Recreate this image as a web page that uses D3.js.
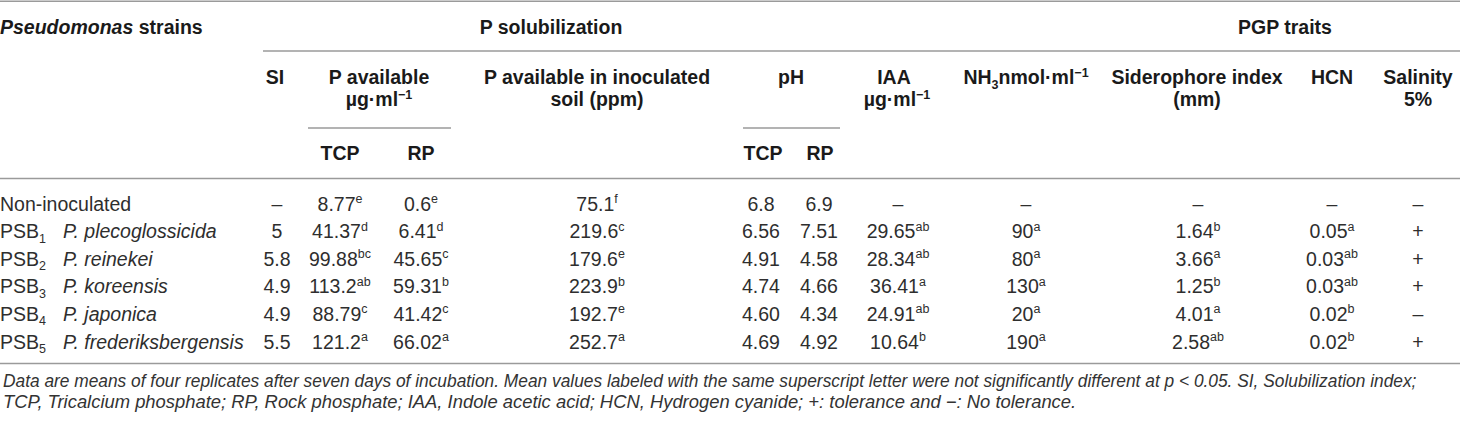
<!DOCTYPE html>
<html><head><meta charset="utf-8">
<script src="https://cdn.jsdelivr.net/npm/d3@7/dist/d3.min.js"></script>
<style>
html,body{margin:0;padding:0;background:#fff;}
svg{display:block;}
</style></head>
<body>
<svg id="t" width="1460" height="421"></svg>
<script>
// ---- data ----
const strainCodes = ["Non-inoculated", "PSB1", "PSB2", "PSB3", "PSB4", "PSB5"];
const strainSub = ["", "1", "2", "3", "4", "5"];
const species = ["", "P. plecoglossicida", "P. reinekei", "P. koreensis", "P. japonica", "P. frederiksbergensis"];
const si = ["–", "5", "5.8", "4.9", "4.9", "5.5"];
const pTcp = ["8.77", "41.37", "99.88", "113.2", "88.79", "121.2"];
const pTcpSig = ["e", "d", "bc", "ab", "c", "a"];
const pRp = ["0.6", "6.41", "45.65", "59.31", "41.42", "66.02"];
const pRpSig = ["e", "d", "c", "b", "c", "a"];
const soil = ["75.1", "219.6", "179.6", "223.9", "192.7", "252.7"];
const soilSig = ["f", "c", "e", "b", "e", "a"];
const phTcp = ["6.8", "6.56", "4.91", "4.74", "4.60", "4.69"];
const phRp = ["6.9", "7.51", "4.58", "4.66", "4.34", "4.92"];
const iaa = ["–", "29.65", "28.34", "36.41", "24.91", "10.64"];
const iaaSig = ["", "ab", "ab", "a", "ab", "b"];
const nh3 = ["–", "90", "80", "130", "20", "190"];
const nh3Sig = ["", "a", "a", "a", "a", "a"];
const sidero = ["–", "1.64", "3.66", "1.25", "4.01", "2.58"];
const sideroSig = ["", "b", "a", "b", "a", "ab"];
const hcn = ["–", "0.05", "0.03", "0.03", "0.02", "0.02"];
const hcnSig = ["", "a", "ab", "ab", "b", "b"];
const salinity = ["–", "+", "+", "+", "–", "+"];
const footnotes = [
  "Data are means of four replicates after seven days of incubation. Mean values labeled with the same superscript letter were not significantly different at p < 0.05. SI, Solubilization index;",
  "TCP, Tricalcium phosphate; RP, Rock phosphate; IAA, Indole acetic acid; HCN, Hydrogen cyanide; +: tolerance and \u2212: No tolerance."
];

// ---- layout ----
const svg = d3.select("#t");
const FONT = "'Liberation Sans', Arial, Helvetica, sans-serif";
const FS = 19.5;
const bodyColor = "#2e2e2e";
const headColor = "#1a1a1a";
const ruleColor = "#9a9a9a";

const colKeys = ["si","pTcp","pRp","soil","phTcp","phRp","iaa","nh3","sidero","hcn","sal"];
const colX = d3.scaleOrdinal().domain(colKeys)
  .range([277, 340, 421, 597, 761, 819, 898, 1026, 1198, 1332, 1418]);

const rowY = d3.scalePoint().domain(d3.range(strainCodes.length)).range([203.5, 341.5]);

// rules
function rule(x1, x2, y, w) {
  svg.append("line").attr("x1", x1).attr("x2", x2).attr("y1", y).attr("y2", y)
    .attr("stroke", ruleColor).attr("stroke-width", w || 1.4);
}
rule(0, 1460, 1.2, 1.6);
rule(263, 1460, 51);
rule(308, 451, 128);
rule(743, 840, 128);
rule(0, 1460, 178.5);
rule(0, 1460, 363.5);

// helper for text with optional sup/sub
function txt(x, y, parts, opts) {
  opts = opts || {};
  const t = svg.append("text").attr("x", x).attr("y", y)
    .attr("font-family", FONT).attr("font-size", opts.size || FS)
    .attr("font-weight", opts.bold ? "bold" : "normal")
    .attr("fill", opts.color || (opts.bold ? headColor : bodyColor))
    .attr("text-anchor", opts.anchor || "middle");
  let shift = 0;
  parts.forEach(p => {
    if (typeof p === "string") p = {t: p};
    if (p.t === "") return;
    const s = t.append("tspan").text(p.t);
    let target = 0;
    if (p.sup) { target = -7.5; s.attr("font-size", 12.5); }
    if (p.sub) { target = 4.5; s.attr("font-size", 12.5); }
    if (p.it) s.attr("font-style", "italic");
    if (target !== shift) { s.attr("dy", target - shift); shift = target; }
  });
  return t;
}

// header
const HB = {bold: true};
txt(0, 34, [{t: "Pseudomonas", it: true}, " strains"], {bold: true, anchor: "start"});
txt(551, 34, ["P solubilization"], HB);
txt(1285, 34, ["PGP traits"], HB);

txt(275, 84, ["SI"], HB);
txt(379, 84, ["P available"], HB);
txt(379, 106, ["µg·ml", {t: "\u22121", sup: true}], HB);
txt(597, 84, ["P available in inoculated"], HB);
txt(597, 106, ["soil (ppm)"], HB);
txt(791, 84, ["pH"], HB);
txt(894, 84, ["IAA"], HB);
txt(897, 106, ["µg·ml", {t: "\u22121", sup: true}], HB);
txt(1026, 84, ["NH", {t: "3", sub: true}, {t: "nmol·ml"}, {t: "\u22121", sup: true}], HB);
txt(1197, 84, ["Siderophore index"], HB);
txt(1197, 106, ["(mm)"], HB);
txt(1332, 84, ["HCN"], HB);
txt(1418, 84, ["Salinity"], HB);
txt(1418, 106, ["5%"], HB);

txt(340, 160, ["TCP"], HB);
txt(421, 160, ["RP"], HB);
txt(763, 160, ["TCP"], HB);
txt(820, 160, ["RP"], HB);

// body rows
const cols = [
  ["si", si, null], ["pTcp", pTcp, pTcpSig], ["pRp", pRp, pRpSig], ["soil", soil, soilSig],
  ["phTcp", phTcp, null], ["phRp", phRp, null], ["iaa", iaa, iaaSig], ["nh3", nh3, nh3Sig],
  ["sidero", sidero, sideroSig], ["hcn", hcn, hcnSig], ["sal", salinity, null]
];
strainCodes.forEach((code, i) => {
  const y = rowY(i) + 7;
  if (strainSub[i]) {
    txt(0, y, ["PSB", {t: strainSub[i], sub: true}], {anchor: "start"});
    txt(63, y, [{t: species[i], it: true}], {anchor: "start"});
  } else {
    txt(0, y, [code], {anchor: "start"});
  }
  cols.forEach(([k, vals, sig]) => {
    const parts = [vals[i]];
    if (sig && sig[i]) parts.push({t: sig[i], sup: true});
    txt(colX(k), y, parts);
  });
});

// footnotes: condensed italic, fitted horizontally to the reference width
const fnY = [387, 407.5];
const fnW = [1415, 1074];
footnotes.forEach((f, i) => {
  const g = svg.append("g");
  const t = g.append("text").attr("x", 0).attr("y", 0)
    .attr("font-family", "'Liberation Sans Narrow', 'Liberation Sans', Arial, sans-serif")
    .attr("font-size", 18).attr("font-style", "italic").attr("fill", "#333")
    .text(f);
  const natural = t.node().getComputedTextLength() || fnW[i];
  g.attr("transform", `translate(3,${fnY[i]}) scale(${fnW[i] / natural},1)`);
});
</script>
</body></html>
